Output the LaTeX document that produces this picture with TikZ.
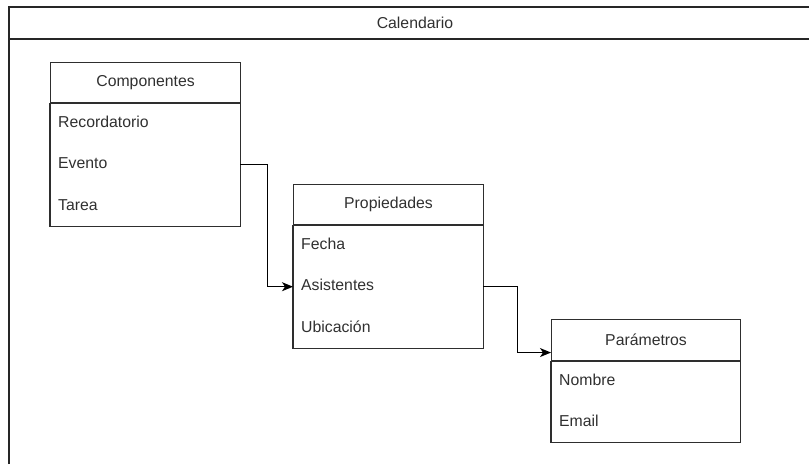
\documentclass[tikz,border=0pt]{standalone}
\usepackage{fontspec}
\setmainfont{Liberation Sans}
\usetikzlibrary{arrows.meta}
\definecolor{ink}{HTML}{2E2E2E}
\definecolor{txt}{HTML}{303030}
\begin{document}
\begin{tikzpicture}[x=1pt,y=-1pt,
  every node/.style={font=\fontsize{15.8}{19}\selectfont, text=txt},
  classhead/.style={draw=ink, line width=1.1pt, minimum width=190pt, minimum height=40pt,
    anchor=north west, inner sep=0pt},
  field/.style={anchor=north west, minimum height=40.67pt, text width=174pt,
    inner xsep=8pt, inner ysep=0pt, align=left, text height=11.5pt, text depth=3pt},
  classbody/.style={draw=ink, line width=1.1pt},
  link/.style={draw=black, line width=1.1pt, -{Stealth[length=11pt,width=9pt,inset=3pt]}},
  frameline/.style={draw=black!85, line width=1.6pt}]
\useasboundingbox (0,0) rectangle (809,464);

% outer container with its title bar
\draw[frameline] (9,464) -- (9,7) -- (809,7);
\draw[frameline] (9,39) -- (809,39);
\node (title) at (415,23) {Calendario};

% Componentes
\node[classhead] (comphead) at (50,62) {Componentes};
\node[field] (recordatorio) at (comphead.south west) {Recordatorio};
\node[field] (evento) at (recordatorio.south west) {Evento};
\node[field] (tarea) at (evento.south west) {Tarea};
\draw[classbody] (comphead.south west) rectangle (tarea.south east);

% Propiedades
\node[classhead] (prophead) at (293,184) {Propiedades};
\node[field] (fecha) at (prophead.south west) {Fecha};
\node[field] (asistentes) at (fecha.south west) {Asistentes};
\node[field] (ubicacion) at (asistentes.south west) {Ubicación};
\draw[classbody] (prophead.south west) rectangle (ubicacion.south east);

% Parámetros
\node[classhead, minimum width=189pt, minimum height=41pt] (parhead) at (551,319) {Parámetros};
\node[field, minimum height=40.5pt, text width=173pt] (nombre) at (parhead.south west) {Nombre};
\node[field, minimum height=40.5pt, text width=173pt] (email) at (nombre.south west) {Email};
\draw[classbody] (parhead.south west) rectangle (email.south east);

% connectors
\coordinate (parin) at ([yshift=-12.5pt]parhead.west);
\draw[link] (evento.east) -- ++(27,0) |- (asistentes.west);
\draw[link] (asistentes.east) -- ++(34,0) |- (parin);
\end{tikzpicture}
\end{document}
